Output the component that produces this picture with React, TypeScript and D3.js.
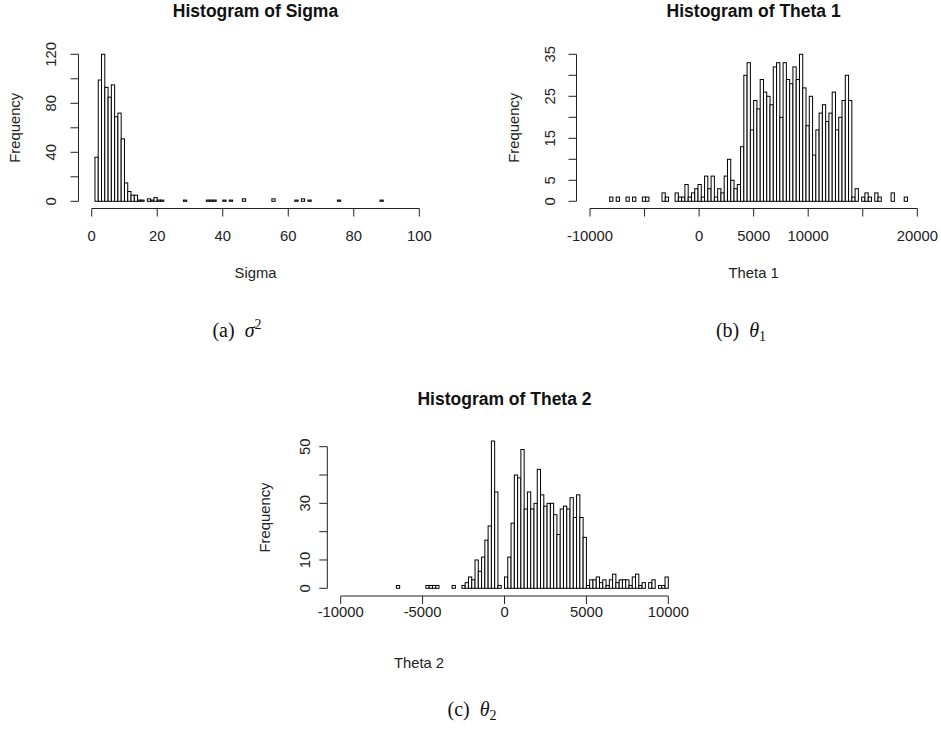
import React from 'react';
import * as d3 from 'd3';

// bin counts, 100 equal bins per histogram
const sigmaBreaks = [0, 100];
const sigmaCounts = [
  0, 36, 99, 120, 93, 85, 95, 69, 72, 51,
  15, 8, 5, 5, 1, 1, 0, 2, 1, 3,
  1, 1, 0, 0, 0, 0, 0, 0, 1, 0,
  0, 0, 0, 0, 0, 1, 1, 1, 0, 0,
  1, 0, 1, 0, 0, 0, 2, 0, 0, 0,
  0, 0, 0, 0, 0, 2, 0, 0, 0, 0,
  0, 0, 1, 0, 2, 0, 1, 0, 0, 0,
  0, 0, 0, 0, 0, 1, 0, 0, 0, 0,
  0, 0, 0, 0, 0, 0, 0, 0, 1, 0,
  0, 0, 0, 0, 0, 0, 0, 0, 0, 0,
];
const sigmaXTicks = [0, 20, 40, 60, 80, 100];
const sigmaXLabels = ['0', '20', '40', '60', '80', '100'];
const sigmaYTicks = [0, 20, 40, 60, 80, 100, 120];
const sigmaYLabels = ['0', '', '40', '', '80', '', '120'];

const theta1Breaks = [-10000, 20000];
const theta1Counts = [
  0, 0, 0, 0, 0, 0, 1, 0, 1, 0,
  0, 1, 0, 1, 0, 0, 1, 1, 0, 0,
  0, 0, 2, 1, 0, 0, 2, 1, 1, 4,
  1, 2, 3, 4, 1, 6, 3, 6, 1, 3,
  2, 6, 10, 5, 3, 4, 13, 30, 33, 17,
  24, 22, 29, 26, 25, 23, 32, 33, 20, 33,
  29, 28, 32, 29, 35, 27, 18, 25, 11, 17,
  21, 23, 19, 21, 26, 17, 20, 24, 30, 24,
  1, 3, 0, 1, 2, 1, 0, 2, 1, 0,
  0, 0, 2, 0, 0, 0, 1, 0, 0, 0,
];
const theta1XTicks = [-10000, -5000, 0, 5000, 10000, 15000, 20000];
const theta1XLabels = ['-10000', '', '0', '5000', '10000', '', '20000'];
const theta1YTicks = [0, 5, 10, 15, 20, 25, 30, 35];
const theta1YLabels = ['0', '5', '', '15', '', '25', '', '35'];

const theta2Breaks = [-10000, 10000];
const theta2Counts = [
  0, 0, 0, 0, 0, 0, 0, 0, 0, 0,
  0, 0, 0, 0, 0, 0, 0, 1, 0, 0,
  0, 0, 0, 0, 0, 0, 1, 1, 1, 1,
  0, 0, 0, 0, 1, 0, 0, 1, 2, 4,
  3, 10, 6, 11, 17, 22, 52, 34, 1, 0,
  4, 11, 23, 40, 39, 49, 28, 34, 28, 30,
  42, 33, 29, 30, 30, 26, 19, 28, 29, 28,
  32, 25, 33, 25, 18, 1, 3, 3, 4, 2,
  3, 1, 3, 5, 2, 3, 3, 3, 1, 4,
  5, 1, 2, 0, 2, 3, 0, 1, 1, 4,
];
const theta2XTicks = [-10000, -5000, 0, 5000, 10000];
const theta2XLabels = ['-10000', '-5000', '0', '5000', '10000'];
const theta2YTicks = [0, 10, 20, 30, 40, 50];
const theta2YLabels = ['0', '10', '', '30', '', '50'];

const SANS = '"Liberation Sans", Arial, sans-serif';
const SERIF = '"Liberation Serif", "DejaVu Serif", serif';

type HistProps = {
  counts: number[];
  breaks: number[];
  xTicks: number[];
  xLabels: string[];
  yTicks: number[];
  yLabels: string[];
  title: string;
  xlab: string;
  xRange: [number, number];
  yRange: [number, number]; // pixel of y=0 and of top tick
  axisX: number;
  axisY: number;
  tickLabelY: number;
  yTickLabelX: number;
  ylabX: number;
  titleY: number;
  xlabX?: number;
  xlabY: number;
};

function Histogram(p: HistProps) {
  const x = d3.scaleLinear().domain(p.breaks).range(p.xRange);
  const y = d3.scaleLinear()
    .domain([0, p.yTicks[p.yTicks.length - 1]])
    .range(p.yRange);
  const n = p.counts.length;
  const step = (p.breaks[1] - p.breaks[0]) / n;
  const mid = (p.xRange[0] + p.xRange[1]) / 2;
  const yMid = (y(p.yTicks[0]) + y(p.yTicks[p.yTicks.length - 1])) / 2;
  const tick = 8;

  return (
    <g>
      <text x={mid} y={p.titleY} textAnchor="middle" fontFamily={SANS}
        fontWeight="bold" fontSize={17.5} fill="#111">{p.title}</text>

      {p.counts.map((c, i) => {
        const lo = p.breaks[0] + i * step;
        const x0 = x(lo), x1 = x(lo + step);
        return (
          <rect key={i} x={x0} y={y(c)} width={x1 - x0} height={y(0) - y(c)}
            fill="white" stroke="#000" strokeWidth={1} />
        );
      })}

      {/* x axis */}
      <line x1={x(p.xTicks[0])} x2={x(p.xTicks[p.xTicks.length - 1])}
        y1={p.axisY} y2={p.axisY} stroke="#222" />
      {p.xTicks.map((t, i) => (
        <g key={'xt' + i}>
          <line x1={x(t)} x2={x(t)} y1={p.axisY} y2={p.axisY + tick} stroke="#222" />
          <text x={x(t)} y={p.tickLabelY} textAnchor="middle" fontFamily={SANS}
            fontSize={14.8} fill="#222">{p.xLabels[i]}</text>
        </g>
      ))}

      {/* y axis */}
      <line x1={p.axisX} x2={p.axisX} y1={y(p.yTicks[0])}
        y2={y(p.yTicks[p.yTicks.length - 1])} stroke="#222" />
      {p.yTicks.map((t, i) => (
        <g key={'yt' + i}>
          <line x1={p.axisX - tick} x2={p.axisX} y1={y(t)} y2={y(t)} stroke="#222" />
          <text transform={`translate(${p.yTickLabelX},${y(t)}) rotate(-90)`}
            textAnchor="middle" fontFamily={SANS} fontSize={14.8} fill="#222">
            {p.yLabels[i]}
          </text>
        </g>
      ))}

      <text transform={`translate(${p.ylabX},${yMid}) rotate(-90)`} textAnchor="middle"
        fontFamily={SANS} fontSize={14.8} fill="#222">Frequency</text>
      <text x={p.xlabX ?? mid} y={p.xlabY} textAnchor="middle" fontFamily={SANS}
        fontSize={14.8} fill="#222">{p.xlab}</text>
    </g>
  );
}

function Caption({ x, y, tag, sym, sup, sub }:
  { x: number; y: number; tag: string; sym: string; sup?: string; sub?: string }) {
  return (
    <text x={x} y={y} textAnchor="middle" fontFamily={SERIF} fontSize={20} fill="#111">
      {tag}{'\u00a0\u00a0'}
      <tspan fontStyle="italic">{sym}</tspan>
      {sup && <tspan fontSize={14} dy={-8}>{sup}</tspan>}
      {sub && <tspan fontSize={14} dy={4}>{sub}</tspan>}
    </text>
  );
}

export default function App() {
  return (
    <svg width={941} height={738} style={{ position: 'absolute', left: 0, top: 0, background: 'white' }}>
      <rect width={941} height={738} fill="white" />
      <Histogram
        counts={sigmaCounts} breaks={sigmaBreaks}
        xTicks={sigmaXTicks} xLabels={sigmaXLabels}
        yTicks={sigmaYTicks} yLabels={sigmaYLabels}
        title="Histogram of Sigma" xlab="Sigma"
        xRange={[91.7, 419.3]} yRange={[201.3, 54.3]}
        axisX={78.5} axisY={208.5} tickLabelY={240.5}
        yTickLabelX={56} ylabX={20} titleY={17} xlabY={278}
      />
      <Histogram
        counts={theta1Counts} breaks={theta1Breaks}
        xTicks={theta1XTicks} xLabels={theta1XLabels}
        yTicks={theta1YTicks} yLabels={theta1YLabels}
        title="Histogram of Theta 1" xlab="Theta 1"
        xRange={[590, 917.3]} yRange={[201.3, 54.3]}
        axisX={576.5} axisY={208.5} tickLabelY={240.5}
        yTickLabelX={555} ylabX={519} titleY={17} xlabY={278}
      />
      <Histogram
        counts={theta2Counts} breaks={theta2Breaks}
        xTicks={theta2XTicks} xLabels={theta2XLabels}
        yTicks={theta2YTicks} yLabels={theta2YLabels}
        title="Histogram of Theta 2" xlab="Theta 2"
        xRange={[340.7, 668.3]} yRange={[588.3, 446.7]}
        axisX={327.3} axisY={596} tickLabelY={617}
        yTickLabelX={310} ylabX={270} titleY={405} xlabX={419} xlabY={668}
      />
      <Caption x={237} y={337} tag="(a)" sym="σ" sup="2" />
      <Caption x={741} y={337} tag="(b)" sym="θ" sub="1" />
      <Caption x={472} y={716} tag="(c)" sym="θ" sub="2" />
    </svg>
  );
}
